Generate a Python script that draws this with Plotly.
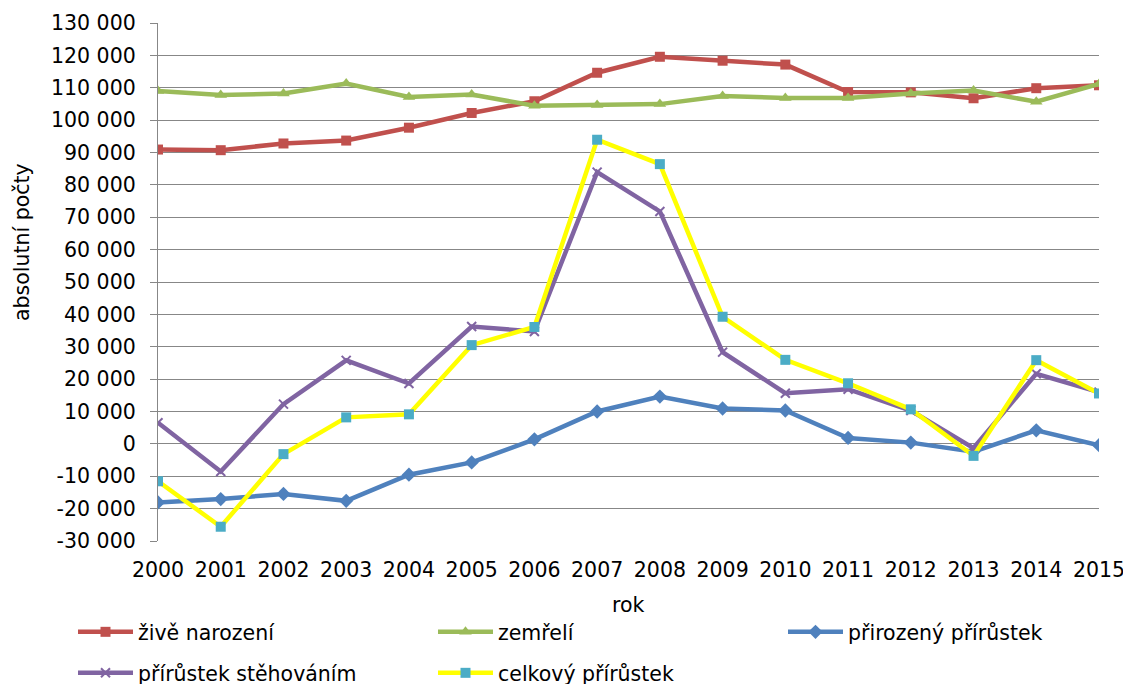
import plotly.graph_objects as go

years = list(range(2000, 2016))
zive_narozeni = [90910, 90715, 92786, 93685, 97664, 102211, 105831, 114632,
                 119570, 118348, 117153, 108673, 108576, 106751, 109860, 110764]
zemreli = [109001, 107755, 108243, 111288, 107177, 107938, 104441, 104636,
           104948, 107421, 106844, 106848, 108189, 109160, 105665, 111173]
prirozeny = [-18091, -17040, -15457, -17603, -9513, -5727, 1390, 9996,
             14622, 10927, 10309, 1825, 387, -2409, 4195, -409]
stehovanim = [6539, -8551, 12290, 25789, 18635, 36229, 34720, 83945,
              71790, 28344, 15648, 16889, 10293, -1297, 21663, 15977]
celkovy = [-11552, -25591, -3167, 8186, 9122, 30502, 36110, 93941,
           86412, 39271, 25957, 18714, 10680, -3706, 25858, 15568]

ytickvals = list(range(-30000, 130001, 10000))
yticktext = ["-30 000", "-20 000", "-10 000", "0", "10 000", "20 000", "30 000",
             "40 000", "50 000", "60 000", "70 000", "80 000", "90 000",
             "100 000", "110 000", "120 000", "130 000"]

FONT = "DejaVu Sans"
FS = 20.5
GRID = "#878787"

# figure-pixel layout (page body adds an 8px offset)
L, T, R, B = 150, 15, 40, 151
PW = 1131 - L - R
PH = 684 - T - B
PLOT_BOTTOM = T + PH


def px_x(fx):
    return (fx - L) / PW


def px_y(fy):
    return (PLOT_BOTTOM - fy) / PH


fig = go.Figure()

series = [
    ("živě narození", zive_narozeni, "#C0504D", "#C0504D", "square", 10, "legend", 290),
    ("zemřelí", zemreli, "#9BBB59", "#9BBB59", "triangle-up", 11, "legend", 280),
    ("přirozený přírůstek", prirozeny, "#4F81BD", "#4F81BD", "diamond", 11, "legend", None),
    ("přírůstek stěhováním", stehovanim, "#8064A2", "#8064A2", "x-thin", 9, "legend2", 290),
    ("celkový přírůstek", celkovy, "#FFFF00", "#4BACC6", "square", 10, "legend2", None),
]

for name, vals, lc, mc, sym, ms, leg, lw in series:
    marker = dict(symbol=sym, size=ms, color=mc)
    if sym == "x-thin":
        marker["line"] = dict(color=mc, width=2)
    else:
        marker["line"] = dict(color=mc, width=0)
    kw = dict(legendwidth=lw) if lw else {}
    fig.add_trace(go.Scatter(
        x=years, y=vals, name=name, mode="lines+markers",
        line=dict(color=lc, width=4.5), marker=marker,
        legend=leg, **kw,
    ))

leg_common = dict(orientation="h", xref="paper", yref="paper",
                  xanchor="left", yanchor="middle", itemwidth=55,
                  font=dict(family=FONT, size=FS),
                  bgcolor="rgba(0,0,0,0)", traceorder="normal")

fig.update_layout(
    width=1131, height=684,
    margin=dict(l=L, r=R, t=T, b=B, autoexpand=False),
    paper_bgcolor="white", plot_bgcolor="white",
    font=dict(family=FONT, size=FS, color="black"),
    showlegend=True,
    legend=dict(x=px_x(65), y=px_y(624), **leg_common),
    legend2=dict(x=px_x(65), y=px_y(665), **leg_common),
    xaxis=dict(range=[2000, 2015], tickvals=years, ticktext=[str(y) for y in years],
               showgrid=False, zeroline=False, showline=False, ticks="",
               ticklabelstandoff=14, automargin=False),
    xaxis2=dict(overlaying="x", matches="x", anchor="free", position=30000 / 160000,
                range=[2000, 2015], tickvals=years, showticklabels=False,
                showgrid=False, zeroline=False, showline=True, linecolor=GRID,
                linewidth=1.3, ticks="outside", ticklen=7, tickcolor=GRID, tickwidth=1.3),
    yaxis=dict(range=[-30000, 130000], tickvals=ytickvals, ticktext=yticktext,
               showgrid=True, gridcolor=GRID, gridwidth=1.3, zeroline=False,
               showline=True, linecolor=GRID, linewidth=1.3,
               ticks="outside", ticklen=7, tickcolor=GRID, tickwidth=1.3,
               ticklabelstandoff=10, automargin=False),
    annotations=[
        dict(text="absolutní počty", xref="paper", yref="paper",
             x=px_x(14), y=px_y(234), textangle=-90,
             showarrow=False, xanchor="center", yanchor="middle",
             font=dict(family=FONT, size=FS)),
        dict(text="rok", xref="paper", yref="paper",
             x=0.5, y=px_y(597), showarrow=False,
             xanchor="center", yanchor="middle",
             font=dict(family=FONT, size=FS)),
    ],
)

fig.write_html("out.html")
